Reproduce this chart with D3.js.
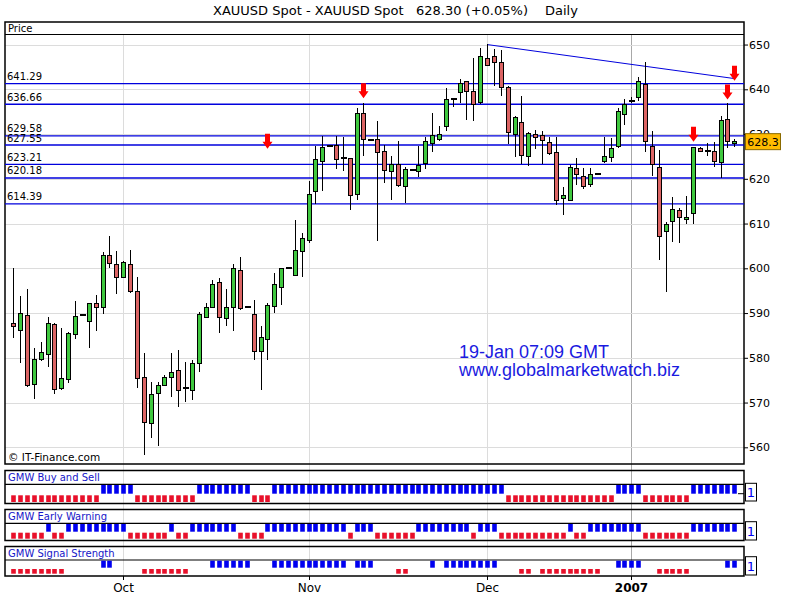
<!DOCTYPE html>
<html><head><meta charset="utf-8">
<script src="https://cdn.jsdelivr.net/npm/d3@7"></script>
<style>body{margin:0;background:#fff}</style>
</head><body>
<svg id="c" width="800" height="600"></svg>
<script>
// ---------- DATA ----------
const opens  = [587.7,586.1,589.5,574.1,579.6,580.8,587.5,573.2,575.2,585.1,589.5,588.2,592.2,591.3,602.9,600.9,598.0,600.9,594.9,575.6,
565.4,572.1,573.9,575.6,577.2,573.3,572.7,578.8,589.0,591.2,596.9,588.8,591.3,599.6,591.3,589.6,581.4,584.0,591.5,595.8,
600.0,598.3,603.7,606.3,617.2,623.9,627.3,627.5,624.7,624.6,616.5,634.7,628.6,628.8,626.2,621.7,623.2,618.2,622.0,621.6,
623.4,627.9,628.8,631.7,637.8,639.2,641.8,639.5,637.0,646.8,647.3,646.1,640.3,629.9,632.5,625.0,629.8,629.7,628.2,625.9,
615.6,615.2,622.3,620.5,618.8,621.0,623.8,624.8,627.2,634.3,637.4,638.1,641.1,627.3,622.6,608.2,610.4,613.0,610.9,612.3,
626.8,626.3,626.2,623.7,633.2,627.8];
const highs  = [600.0,593.7,595.3,582.1,583.5,589.2,587.8,586.7,585.8,592.7,589.5,592.2,594.0,603.7,607.2,603.9,601.6,604.1,598.0,581.0,
574.5,574.7,576.2,581.0,581.7,579.1,579.4,590.3,592.2,597.4,597.8,595.3,601.0,602.5,591.3,592.9,587.2,592.2,598.9,600.0,
600.0,610.9,607.8,619.6,627.3,629.6,627.5,629.6,629.3,624.6,635.9,636.9,628.6,632.9,627.6,625.0,628.4,622.7,622.0,627.3,
629.3,634.7,631.8,640.3,637.8,642.2,641.8,647.0,649.3,650.1,649.0,648.8,640.7,634.0,638.5,630.5,631.0,630.6,629.3,629.4,
618.2,623.1,624.6,622.5,622.4,621.0,629.4,629.2,635.9,637.9,638.3,642.7,646.0,630.6,626.4,610.4,616.0,613.4,616.2,627.2,
627.2,628.1,628.3,634.0,637.0,629.0];
const lows   = [584.4,578.9,573.5,570.7,579.2,578.0,571.9,572.8,574.4,584.1,589.5,582.1,586.1,589.7,600.0,594.2,598.0,594.4,573.3,558.3,
562.1,560.4,573.9,571.3,569.1,570.2,570.6,576.9,589.0,591.2,585.6,587.0,586.1,590.7,591.3,579.5,572.8,579.5,590.1,591.8,
600.0,598.3,598.0,605.6,614.4,617.3,627.1,622.3,621.8,613.1,615.2,625.0,628.6,606.2,619.1,615.3,618.2,614.5,622.0,620.5,
622.3,626.1,628.4,630.6,636.1,637.0,633.1,632.9,636.7,645.4,640.7,638.6,627.8,624.9,623.4,622.9,626.6,623.4,625.4,614.2,
611.9,615.1,618.6,617.7,618.2,621.0,623.5,623.7,626.8,632.0,637.0,637.4,625.9,620.6,601.8,594.8,605.9,605.7,609.9,609.9,
626.1,625.1,622.7,620.1,626.8,627.2];
const closes = [587.0,589.9,573.9,579.7,581.2,587.7,573.0,575.4,585.5,589.3,589.5,592.2,591.3,602.9,601.1,598.0,601.4,594.9,575.4,565.6,
571.8,573.9,575.6,576.8,572.7,573.3,578.8,589.7,591.3,596.4,589.1,591.3,600.0,591.0,591.3,581.4,584.6,591.6,596.4,600.0,
600.0,604.0,606.7,616.4,624.3,627.0,627.3,624.4,624.7,616.3,634.5,628.7,628.6,625.9,621.9,623.1,618.5,622.0,622.0,622.9,
628.4,629.7,630.0,637.8,637.8,641.3,639.5,636.6,647.3,645.4,645.9,640.3,630.3,633.6,625.3,630.1,629.3,628.6,625.7,615.2,
616.3,622.6,621.0,618.2,621.0,621.0,625.0,626.7,635.1,636.7,637.4,641.8,628.3,623.3,607.1,609.7,613.2,611.4,611.4,627.0,
626.1,626.3,623.8,633.0,628.3,628.3];

const monthLabels = ["Oct","Nov","Dec","2007"];
const monthIdx    = [17, 44, 70, 91];
const priceTicks  = [560,570,580,590,600,610,620,630,640,650];
const levelValues = [641.29,636.66,629.58,627.55,623.21,620.18,614.39];
const trendIdx    = [70, 106];
const trendPrice  = [650.0, 642.4];
const arrowIdx    = [38, 52, 100, 105, 106];
const arrowPrice  = [626.7, 638.0, 628.3, 637.7, 641.9];
const lastPrice   = 628.3;

const panelTitles = ["GMW Buy and Sell","GMW Early Warning","GMW Signal Strength"];
// runs: [firstIndex, lastIndex, signal]  (1 = blue/buy, -1 = red/sell)
const buySellRuns = [[1,13,-1],[14,18,1],[19,27,-1],[28,35,1],[36,38,-1],[39,72,1],[73,88,-1],[89,92,1],[93,99,-1],[100,106,1]];
const earlyWarningRuns = [[1,5,-1],[6,6,1],[7,8,-1],[9,17,1],[18,23,-1],[24,24,1],[25,26,-1],[27,33,1],[34,37,-1],[38,49,1],[50,50,-1],
[51,53,1],[54,59,-1],[60,67,1],[68,68,-1],[69,71,1],[72,81,-1],[82,82,1],[83,84,-1],[85,92,1],[93,99,-1],[100,106,1]];
const signalStrengthRuns = [[1,8,-1],[14,15,1],[20,26,-1],[30,35,1],[39,49,1],[51,53,1],[57,58,-1],[62,62,1],[64,71,1],[75,76,-1],
[78,86,-1],[89,92,1],[95,99,-1],[105,106,1]];

// ---------- LAYOUT ----------
const n = opens.length;
const idx = d3.range(1, n + 1);
const L = 5, R = 744;
const x = d3.scaleLinear().domain([1, n]).range([13.3, 734.3]);
const y = d3.scaleLinear().domain([560, 650]).range([447.3, 44.55]);
const px = i => Math.round(x(i)) + 0.5;

const svg = d3.select("#c");
const FONT = "DejaVu Sans, Verdana, sans-serif";
const BLUE = "#0000dd";

// Title
const t = svg.append("g").attr("font-family", FONT).attr("font-size", 13).attr("fill", "#000");
t.append("text").attr("x", 213).attr("y", 15).text("XAUUSD Spot - XAUUSD Spot");
t.append("text").attr("x", 416).attr("y", 15).text("628.30 (+0.05%)");
t.append("text").attr("x", 545).attr("y", 15).text("Daily");

// vertical month grid (through all panels)
const vg = svg.append("g");
vg.selectAll("line").data(monthIdx).join("line")
  .attr("x1", d => px(d)).attr("x2", d => px(d)).attr("y1", 35).attr("y2", 576)
  .attr("stroke", (d, k) => monthLabels[k] === "2007" ? "#a8a8a8" : "#dcdcdc").attr("stroke-width", 1);

// horizontal price grid
svg.append("g").selectAll("line").data(priceTicks).join("line")
  .attr("x1", L).attr("x2", R).attr("y1", d => Math.round(y(d)) + 0.5).attr("y2", d => Math.round(y(d)) + 0.5)
  .attr("stroke", "#dcdcdc");

// main frame
svg.append("rect").attr("x", L).attr("y", 22).attr("width", R - L).attr("height", 442)
  .attr("fill", "none").attr("stroke", "#000").attr("stroke-width", 1.5);
svg.append("line").attr("x1", L).attr("x2", R).attr("y1", 34.5).attr("y2", 34.5).attr("stroke", "#000").attr("stroke-width", 1.2);
svg.append("text").attr("x", 8).attr("y", 31.5).attr("font-family", FONT).attr("font-size", 10).text("Price");

// support/resistance levels
const lv = svg.append("g");
lv.selectAll("line").data(levelValues).join("line")
  .attr("x1", L).attr("x2", R).attr("y1", d => y(d)).attr("y2", d => y(d))
  .attr("stroke", BLUE).attr("stroke-width", 1.3);
lv.selectAll("text").data(levelValues).join("text")
  .attr("x", 7).attr("y", d => y(d) - 3.5).attr("font-family", FONT).attr("font-size", 10)
  .text(d => d.toFixed(2));

// trend line
svg.append("line").attr("x1", x(trendIdx[0])).attr("y1", y(trendPrice[0]))
  .attr("x2", x(trendIdx[1])).attr("y2", y(trendPrice[1])).attr("stroke", BLUE).attr("stroke-width", 1);

// candles
const cg = svg.append("g").attr("shape-rendering", "crispEdges");
cg.selectAll("line.w").data(idx).join("line").attr("class", "w")
  .attr("x1", i => px(i)).attr("x2", i => px(i))
  .attr("y1", i => y(highs[i-1])).attr("y2", i => y(lows[i-1]))
  .attr("stroke", "#000").attr("stroke-width", 1);
const bodies = idx.filter(i => opens[i-1] !== closes[i-1]);
const dojis = idx.filter(i => opens[i-1] === closes[i-1]);
cg.selectAll("rect.b").data(bodies).join("rect").attr("class", "b")
  .attr("x", i => px(i) - 2).attr("width", 4)
  .attr("y", i => y(Math.max(opens[i-1], closes[i-1])))
  .attr("height", i => Math.max(1, y(Math.min(opens[i-1], closes[i-1])) - y(Math.max(opens[i-1], closes[i-1]))))
  .attr("fill", i => closes[i-1] > opens[i-1] ? "#3fc83f" : "#db6464")
  .attr("stroke", "#000").attr("stroke-width", 1);
cg.selectAll("rect.d").data(dojis).join("rect").attr("class", "d")
  .attr("x", i => px(i) - 3).attr("width", 6)
  .attr("y", i => y(opens[i-1]) - 1).attr("height", 2).attr("fill", "#000");

// arrows
svg.append("g").selectAll("path").data(arrowIdx).join("path")
  .attr("d", (i, k) => {
    const cx = px(i), ty = y(arrowPrice[k]);
    return `M${cx-2.5},${ty-15} L${cx+2.5},${ty-15} L${cx+2.5},${ty-7} L${cx+5},${ty-7} L${cx},${ty} L${cx-5},${ty-7} L${cx-2.5},${ty-7} Z`;
  })
  .attr("fill", "#ff0000");

// right axis
const ax = svg.append("g").attr("transform", `translate(${R},0)`)
  .call(d3.axisRight(y).tickValues(priceTicks).tickSize(4).tickPadding(1).tickFormat(d3.format("d")));
ax.select(".domain").remove();
ax.selectAll("text").attr("font-family", FONT).attr("font-size", 11).attr("fill", "#000");
ax.selectAll("line").attr("stroke", "#000");

// last price box
const ly = y(lastPrice);
svg.append("rect").attr("x", 745.5).attr("y", ly - 8).attr("width", 35).attr("height", 16)
  .attr("fill", "#ffbb00").attr("stroke", "#8a6a00").attr("stroke-width", 1);
svg.append("text").attr("x", 763).attr("y", ly + 4).attr("text-anchor", "middle")
  .attr("font-family", FONT).attr("font-size", 11).text(lastPrice.toFixed(1));

// watermark texts
svg.append("text").attr("x", 8).attr("y", 461).attr("font-family", FONT).attr("font-size", 10.5).text("© IT-Finance.com");
const wt = svg.append("g").attr("font-family", "Liberation Sans, Arial, sans-serif").attr("font-size", 18).attr("fill", "#1a1ae0");
wt.append("text").attr("x", 459).attr("y", 358).text("19-Jan 07:09 GMT");
wt.append("text").attr("x", 459).attr("y", 376).text("www.globalmarketwatch.biz");

// ---------- INDICATOR PANELS ----------
const panels = [
  {runs: buySellRuns, top: 470.5, sep: 484.3, bot: 503.5, bY: 485, bH: 8.7, rY: 495.3, rH: 6.7, boxY: 483.3, boxH: 17.7, tY: 480.5},
  {runs: earlyWarningRuns, top: 509.5, sep: 523.3, bot: 540.5, bY: 524, bH: 7.7, rY: 532.7, rH: 6, boxY: 521.7, boxH: 18.3, tY: 519.5},
  {runs: signalStrengthRuns, top: 546.5, sep: 560, bot: 576, bY: 560.7, bH: 7, rY: 569, rH: 4.7, boxY: 556.7, boxH: 18.3, tY: 556.5}
];
panels.forEach((p, k) => {
  const g = svg.append("g");
  g.append("rect").attr("x", L).attr("y", p.top).attr("width", R - L).attr("height", p.bot - p.top)
    .attr("fill", "none").attr("stroke", "#000").attr("stroke-width", 1.5);
  g.append("line").attr("x1", L).attr("x2", R).attr("y1", p.sep).attr("y2", p.sep).attr("stroke", "#000").attr("stroke-width", 1.2);
  g.append("text").attr("x", 8).attr("y", p.tY).attr("font-family", FONT).attr("font-size", 10)
    .attr("fill", "#1515c8").text(panelTitles[k]);
  const cells = [];
  p.runs.forEach(r => { for (let i = r[0]; i <= r[1]; i++) cells.push({i, s: r[2]}); });
  g.selectAll("rect.s").data(cells).join("rect").attr("class", "s")
    .attr("x", d => px(d.i) - 2.3).attr("width", 4.6)
    .attr("y", d => d.s > 0 ? p.bY : p.rY).attr("height", d => d.s > 0 ? p.bH : p.rH)
    .attr("fill", d => d.s > 0 ? "#0000f0" : "#e8102a");
  g.append("rect").attr("x", 745.5).attr("y", p.boxY).attr("width", 11).attr("height", p.boxH)
    .attr("fill", "#fff").attr("stroke", "#000").attr("stroke-width", 1);
  g.append("text").attr("x", 751).attr("y", p.boxY + p.boxH / 2 + 5).attr("text-anchor", "middle")
    .attr("font-family", FONT).attr("font-size", 13).attr("fill", "#0000f0").text("1");
});
svg.append("line").attr("x1", 738).attr("x2", 744).attr("y1", 493.7).attr("y2", 493.7).attr("stroke", "#000");

// month axis
const mg = svg.append("g");
mg.selectAll("line").data(monthIdx).join("line")
  .attr("x1", d => px(d)).attr("x2", d => px(d)).attr("y1", 576).attr("y2", 580).attr("stroke", "#000");
mg.selectAll("text").data(monthIdx).join("text")
  .attr("x", d => px(d)).attr("y", 592).attr("text-anchor", "middle")
  .attr("font-family", FONT).attr("font-size", 12)
  .attr("font-weight", (d, k) => monthLabels[k] === "2007" ? "bold" : "normal")
  .text((d, k) => monthLabels[k]);
</script>
</body></html>
